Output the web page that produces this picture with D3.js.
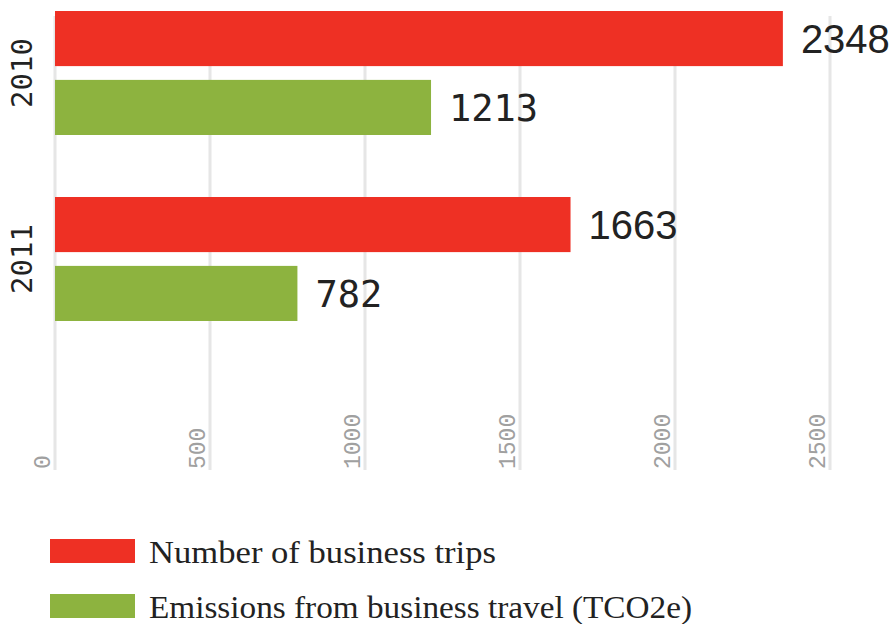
<!DOCTYPE html>
<html><head><meta charset="utf-8">
<script src="https://cdn.jsdelivr.net/npm/d3@7/dist/d3.min.js"></script>
<style>html,body{margin:0;padding:0;background:#fff;}svg{display:block;}</style>
</head><body>
<svg id="chart" width="891" height="624"></svg>
<script>
const years = ["2010", "2011"];
const seriesNames = ["Number of business trips", "Emissions from business travel (TCO2e)"];
const seriesKeys = ["trips", "emissions"];
const tripsValues = [2348, 1663];
const emissionValues = [1213, 782];
const tickValues = [0, 500, 1000, 1500, 2000, 2500];
const colors = ["#ee3024", "#8db33f"];

const svg = d3.select("#chart");
const x = d3.scaleLinear().domain([0, 2500]).range([55, 830]);
const y0 = d3.scaleBand().domain(years).range([11, 383]).paddingInner(0.333).paddingOuter(0.1665).align(0);
const y1 = d3.scaleBand().domain(seriesKeys).range([0, 124]).paddingInner(0.2);
const color = d3.scaleOrdinal().domain(seriesKeys).range(colors);

const data = years.map((yr, i) => ({year: yr, values: [
  {key: "trips", value: tripsValues[i]},
  {key: "emissions", value: emissionValues[i]}
]}));

// gridlines
svg.append("g").selectAll("line").data(tickValues).join("line")
  .attr("x1", d => x(d)).attr("x2", d => x(d))
  .attr("y1", 16).attr("y2", 470)
  .attr("stroke", "#e6e6e6").attr("stroke-width", 3);

// tick labels
svg.append("g").selectAll("text").data(tickValues).join("text")
  .attr("transform", d => `translate(${x(d) - 5},469) rotate(-90)`)
  .attr("text-anchor", "start")
  .attr("font-family", "Liberation Mono, monospace")
  .attr("font-size", 23)
  .attr("fill", "#a0a0a0")
  .text(d => d);

// bars
const groups = svg.append("g").selectAll("g").data(data).join("g")
  .attr("transform", d => `translate(0,${y0(d.year)})`);

groups.selectAll("rect").data(d => d.values).join("rect")
  .attr("x", x(0))
  .attr("y", d => y1(d.key))
  .attr("width", d => x(d.value) - x(0))
  .attr("height", y1.bandwidth())
  .attr("fill", d => color(d.key));

groups.selectAll("text.val").data(d => d.values).join("text")
  .attr("class", "val")
  .attr("x", d => x(d.value) + 18)
  .attr("y", d => y1(d.key) + y1.bandwidth() / 2 + 14)
  .attr("font-family", d => d.key === "trips" ? "Liberation Sans, Arial, sans-serif" : "DejaVu Sans Mono, monospace")
  .attr("font-size", d => d.key === "trips" ? 40 : 37)
  .attr("fill", "#222")
  .text(d => d.value);

// year labels
svg.append("g").selectAll("text").data(years).join("text")
  .attr("transform", d => `translate(32,${y0(d) + y0.bandwidth() / 2}) rotate(-90)`)
  .attr("text-anchor", "middle")
  .attr("font-family", "DejaVu Sans Mono, monospace")
  .attr("font-size", 29)
  .attr("fill", "#222")
  .text(d => d);

// legend
const legend = svg.append("g").selectAll("g").data(seriesKeys).join("g")
  .attr("transform", (d, i) => `translate(50,${539 + i * 55})`);
legend.append("rect").attr("width", 85).attr("height", 24).attr("fill", d => color(d));
const legendWidths = [347, 543];
legend.append("text")
  .attr("x", 99).attr("y", 24)
  .attr("font-family", "Liberation Serif, Times New Roman, serif")
  .attr("font-size", 32)
  .attr("fill", "#222")
  .attr("textLength", (d, i) => legendWidths[i])
  .attr("lengthAdjust", "spacingAndGlyphs")
  .text((d, i) => seriesNames[i]);
</script>
</body></html>
